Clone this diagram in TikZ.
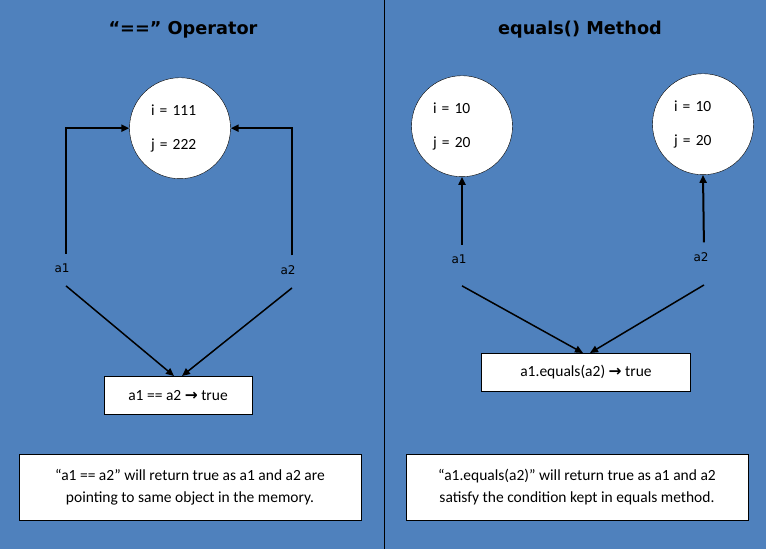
\documentclass[tikz,border=0pt]{standalone}
\usepackage{fontspec}
\setmainfont{Carlito}
\newfontfamily\headfont{DejaVu Sans}
\usetikzlibrary{arrows.meta}
\definecolor{bgblue}{HTML}{4F81BD}
\newcommand{\txt}{\fontsize{15.5}{18}\selectfont}
\newcommand{\rarr}{{\headfont\bfseries →}}

\tikzset{
  obj/.style={circle, draw, fill=white, minimum size=101pt, inner sep=0pt,
    text width=58pt, align=left, font=\txt},
  varname/.style={font=\headfont\fontsize{12}{14}\selectfont, inner sep=3pt},
  result/.style={draw, fill=white, minimum height=38pt, font=\txt},
  note/.style={draw, fill=white, minimum width=342pt, minimum height=66pt,
    align=center, font=\fontsize{15.5}{22}\selectfont},
  heading/.style={font=\headfont\bfseries\fontsize{17.7}{22}\selectfont},
  uplink/.style={-{Triangle[length=8pt,width=7pt]}, line width=2pt, shorten <=7pt},
  downlink/.style={-{Triangle[length=8pt,width=7pt]}, line width=1.5pt}
}

\begin{document}
\begin{tikzpicture}[x=1pt, y=-1pt]
\fill[bgblue] (0,0) rectangle (766,549);
\draw (384,0) -- (384,549);

% == operator
\node[heading] (t1) at (183,30) {“==” Operator};
\node[obj] (o1) at (180,128) {i = 111\\[16pt]j = 222};
\node[varname] (a1) at (62,268) {a1};
\node[varname] (a2) at (288,270) {a2};
\node[result, minimum width=148pt] (r1) at (178,395) {a1 == a2 \rarr\ true};
\node[note] (n1) at (190,487) {“a1 == a2” will return true as a1 and a2 are\\pointing to same object in the memory.};
\draw[uplink] ([xshift=4pt]a1.north) |- (o1.west);
\draw[uplink] ([xshift=4pt]a2.north) |- (o1.east);
\draw[downlink] ([xshift=4pt,yshift=-10pt]a1.south) -- ([xshift=-4pt]r1.north);
\draw[downlink] ([xshift=4pt,yshift=-10pt]a2.south) -- ([xshift=4pt]r1.north);

% equals() method
\node[heading] (t2) at (580,29) {equals() Method};
\node[obj] (o2) at (462,126) {i = 10\\[16pt]j = 20};
\node[obj] (o3) at (703,124) {i = 10\\[16pt]j = 20};
\node[varname] (b1) at (459,259) {a1};
\node[varname] (b2) at (701,257) {a2};
\node[result, minimum width=209pt] (r2) at (586,372) {a1.equals(a2) \rarr\ true};
\node[note] (n2) at (577,487) {“a1.equals(a2)” will return true as a1 and a2\\satisfy the condition kept in equals method.};
\draw[uplink] ([xshift=3pt]b1.north) -- (o2.south);
\draw[uplink] ([xshift=3pt]b2.north) -- (o3.south);
\draw[downlink] ([xshift=3pt,yshift=-19pt]b1.south) -- ([xshift=-3pt]r2.north);
\draw[downlink] ([xshift=3pt,yshift=-20pt]b2.south) -- ([xshift=4pt]r2.north);
\end{tikzpicture}
\end{document}
